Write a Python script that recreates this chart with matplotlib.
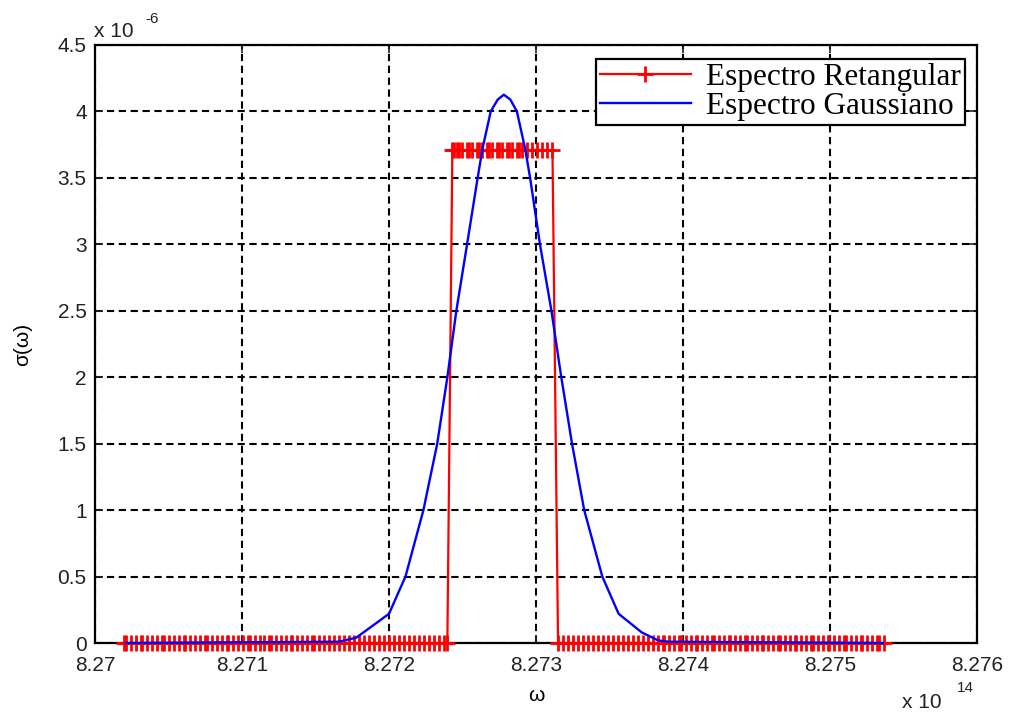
import numpy as np
import matplotlib.pyplot as plt

# omega in units of 1e14, stored as offsets (x 1e-6) from 8.27
base = 8.27
red_left = [200, 210, 243, 277, 311, 321, 355, 389, 423, 457, 467, 501, 535, 569, 603, 613,
            647, 681, 715, 749, 759, 793, 827, 861, 895, 905, 939, 973, 1007, 1041, 1051,
            1085, 1119, 1153, 1187, 1197, 1231, 1265, 1299, 1333, 1343, 1377, 1411, 1445,
            1479, 1489, 1523, 1557, 1591, 1625, 1659, 1693, 1727, 1761, 1795, 1829, 1863,
            1897, 1931, 1965, 1999, 2033, 2067, 2101, 2135, 2169, 2203, 2237, 2271, 2305,
            2339, 2373, 2397]
red_top = [2431, 2441, 2465, 2475, 2499, 2533, 2543, 2567, 2601, 2611, 2635, 2669, 2679,
           2703, 2737, 2747, 2771, 2805, 2815, 2839, 2873, 2883, 2907, 2941, 2975, 3009,
           3043, 3077, 3112]
red_right = [3150, 3184, 3218, 3252, 3286, 3320, 3354, 3388, 3422, 3456, 3490, 3524, 3558,
             3592, 3626, 3660, 3694, 3728, 3762, 3796, 3830, 3864, 3874, 3908, 3942, 3976,
             3986, 4020, 4054, 4088, 4098, 4132, 4166, 4200, 4210, 4244, 4278, 4312, 4322,
             4356, 4390, 4424, 4434, 4468, 4502, 4536, 4546, 4580, 4614, 4648, 4658, 4692,
             4726, 4760, 4770, 4804, 4838, 4872, 4882, 4916, 4950, 4984, 4994, 5028, 5062,
             5096, 5106, 5140, 5174, 5208, 5218, 5252, 5286, 5320, 5330, 5370]
red_level = 3.71  # x 1e-6

blue_off = [210, 1660, 1777, 2000, 2112, 2234, 2328, 2397, 2458, 2531, 2603, 2636, 2692,
            2740, 2781, 2825, 2870, 2926, 2960, 3027, 3105, 3172, 3245, 3328, 3451, 3562,
            3719, 3830, 3900, 5360]
blue_val = [0.0, 0.01, 0.04, 0.22, 0.5, 1.0, 1.5, 2.0, 2.5, 3.0, 3.5, 3.72, 4.0,
            4.09, 4.126, 4.09, 4.0, 3.72, 3.5, 3.0, 2.5, 2.0, 1.5, 1.0, 0.5, 0.22,
            0.08, 0.02, 0.01, 0.0]

xticks = [8.27, 8.271, 8.272, 8.273, 8.274, 8.275, 8.276]
xlabels = ['8.27', '8.271', '8.272', '8.273', '8.274', '8.275', '8.276']
yticks = [0, 0.5, 1, 1.5, 2, 2.5, 3, 3.5, 4, 4.5]
ylabels = ['0', '0.5', '1', '1.5', '2', '2.5', '3', '3.5', '4', '4.5']

red_x = base + np.array(red_left + red_top + red_right) * 1e-6
red_y = [0.0] * len(red_left) + [red_level] * len(red_top) + [0.0] * len(red_right)
blue_x = base + np.array(blue_off) * 1e-6

plt.rcParams['font.family'] = 'Liberation Sans'
fig = plt.figure(figsize=(10.14, 7.12), dpi=100)
ax = fig.add_axes([0.0937, 0.0969, 0.8698, 0.8399])

ax.plot(red_x, red_y, color='#ff0000', lw=1.6, marker='+', markersize=12,
        markeredgewidth=2.0, label='Espectro Retangular', clip_on=False, zorder=3)
ax.plot(blue_x, blue_val, color='#0000ff', lw=1.7, label='Espectro Gaussiano',
        clip_on=False, zorder=4)

ax.set_xlim(8.27, 8.276)
ax.set_ylim(0, 4.5)
ax.set_xticks(xticks)
ax.set_xticklabels(xlabels)
ax.set_yticks(yticks)
ax.set_yticklabels(ylabels)
ax.tick_params(direction='in', length=6, width=1.2, labelsize=15, pad=6,
               top=True, right=True, colors='#222222')
ax.tick_params(axis='x', pad=9)
ax.grid(True, color='black', linestyle=(0, (3.5, 2.2)), linewidth=1.5)
for s in ax.spines.values():
    s.set_linewidth(1.6)
    s.set_zorder(2.5)

ax.set_xlabel('ω', fontsize=15, labelpad=8)
ax.set_ylabel('σ(ω)', fontsize=15, labelpad=18)

# MATLAB style exponent labels
fig.text(0.093, 0.948, 'x 10', fontsize=15, color='#222222')
fig.text(0.143, 0.968, '-6', fontsize=11, color='#222222')
fig.text(0.890, 0.006, 'x 10', fontsize=15, color='#222222')
fig.text(0.944, 0.028, '14', fontsize=11, color='#222222')

leg = ax.legend(loc='upper right', bbox_to_anchor=(0.9864, 0.9766),
                prop={'family': 'Liberation Serif', 'size': 22.5},
                fancybox=False, framealpha=1, edgecolor='black', handlelength=2.9,
                borderpad=0.12, labelspacing=0.02, handletextpad=0.5,
                borderaxespad=0.0)
leg.get_frame().set_linewidth(1.6)

fig.savefig('out.png', dpi=100)
